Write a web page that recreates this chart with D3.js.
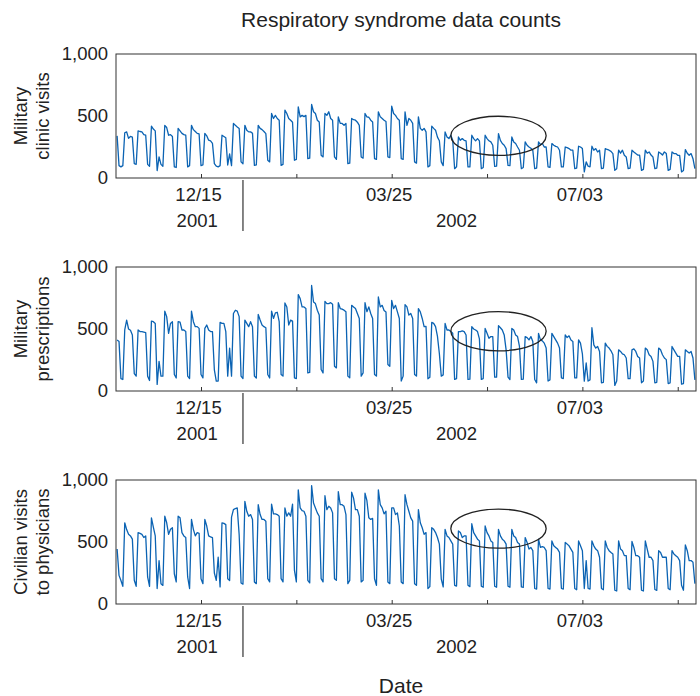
<!DOCTYPE html>
<html>
<head>
<meta charset="utf-8">
<script src="https://cdn.jsdelivr.net/npm/d3@7"></script>
<style>
  body { margin: 0; background: #fff; }
  svg text { font-family: "Liberation Sans", Arial, Helvetica, sans-serif; fill: #222; }
</style>
</head>
<body>
<div id="chart"></div>
<script>

// Daily counts, Thu 2001-11-01 .. Sat 2002-08-31, one row per week (Mon..Sun)
const firstDay = new Date(2001, 10, 1);

const clinicVisits = [
  340, 100, 90, 100,
  365, 372, 320, 335, 330, 115, 110,   // Nov 5
  380, 375, 372, 350, 345, 110, 95,    // Nov 12
  418, 395, 380, 60, 170, 110, 95,     // Nov 19
  425, 407, 345, 350, 335, 90, 85,     // Nov 26
  400, 380, 360, 350, 345, 90, 100,    // Dec 3
  425, 390, 375, 360, 355, 100, 105,   // Dec 10
  360, 340, 305, 300, 280, 116, 95,    // Dec 17
  90, 100, 345, 335, 325, 105, 195,    // Dec 24
  100, 440, 425, 412, 400, 130, 115,   // Dec 31
  425, 385, 372, 372, 360, 102, 105,   // Jan 7
  425, 400, 390, 375, 358, 143, 130,   // Jan 14
  520, 480, 505, 480, 466, 102, 110,   // Jan 21
  547, 520, 480, 466, 450, 143, 150,   // Jan 28
  574, 493, 505, 495, 505, 156, 160,   // Feb 4
  593, 534, 520, 466, 452, 183, 170,   // Feb 11
  520, 505, 534, 480, 466, 170, 150,   // Feb 18
  493, 440, 440, 425, 440, 116, 120,   // Feb 25
  480, 470, 466, 450, 425, 170, 160,   // Mar 4
  520, 493, 490, 466, 452, 156, 150,   // Mar 11
  534, 493, 480, 466, 455, 170, 165,   // Mar 18
  580, 520, 505, 480, 466, 156, 150,   // Mar 25
  534, 425, 480, 466, 440, 130, 120,   // Apr 1
  493, 400, 385, 400, 372, 89, 100,    // Apr 8
  418, 400, 385, 330, 300, 130, 100,   // Apr 15
  372, 331, 318, 345, 304, 75, 90,     // Apr 22
  331, 304, 318, 304, 300, 89, 90,     // Apr 29
  345, 318, 300, 318, 300, 75, 85,     // May 6
  345, 318, 300, 291, 264, 94, 95,     // May 13
  358, 304, 278, 264, 237, 102, 100,   // May 20
  331, 291, 278, 250, 224, 75, 85,     // May 27
  291, 264, 250, 240, 224, 75, 80,     // Jun 3
  291, 270, 278, 250, 250, 89, 85,     // Jun 10
  278, 264, 255, 250, 224, 89, 90,     // Jun 17
  250, 245, 237, 224, 224, 75, 80,     // Jun 24
  256, 250, 237, 49, 130, 95, 90,      // Jul 1
  256, 224, 237, 210, 224, 75, 80,     // Jul 8
  237, 230, 224, 215, 197, 62, 75,     // Jul 15
  224, 200, 224, 183, 170, 75, 80,     // Jul 22
  224, 210, 197, 185, 185, 62, 70,     // Jul 29
  224, 200, 210, 185, 170, 75, 80,     // Aug 5
  210, 200, 185, 210, 197, 62, 70,     // Aug 12
  210, 197, 197, 183, 183, 49, 60,     // Aug 19
  229, 200, 183, 197, 156, 75          // Aug 26
];

const prescriptions = [
  412, 400, 100, 93,
  492, 572, 500, 490, 452, 140, 120,   // Nov 5
  492, 479, 479, 475, 471, 120, 85,    // Nov 12
  564, 559, 545, 53, 239, 120, 120,    // Nov 19
  644, 600, 465, 545, 559, 133, 105,   // Nov 26
  559, 555, 492, 492, 480, 120, 100,   // Dec 3
  644, 559, 519, 519, 505, 133, 106,   // Dec 10
  505, 532, 492, 480, 479, 170, 80,    // Dec 17
  80, 553, 545, 545, 479, 120, 346,    // Dec 24
  120, 625, 651, 644, 600, 120, 100,   // Dec 31
  572, 545, 519, 559, 519, 120, 105,   // Jan 7
  617, 572, 532, 519, 510, 133, 105,   // Jan 14
  644, 585, 630, 635, 560, 133, 120,   // Jan 21
  710, 678, 532, 572, 564, 106, 100,   // Jan 28
  777, 745, 678, 678, 665, 146, 150,   // Feb 4
  851, 718, 705, 651, 612, 173, 145,   // Feb 11
  723, 705, 705, 712, 700, 199, 186,   // Feb 18
  712, 665, 660, 652, 640, 120, 106,   // Feb 25
  691, 678, 665, 625, 585, 120, 146,   // Mar 4
  712, 640, 678, 625, 585, 133, 120,   // Mar 11
  758, 678, 691, 650, 638, 213, 199,   // Mar 18
  731, 665, 691, 638, 585, 80, 120,    // Mar 25
  697, 678, 612, 625, 585, 133, 120,   // Apr 1
  665, 638, 585, 519, 520, 98, 110,    // Apr 8
  553, 545, 519, 440, 300, 120, 130,   // Apr 15
  545, 492, 492, 479, 465, 93, 100,    // Apr 22
  479, 479, 484, 479, 452, 93, 95,     // Apr 29
  519, 500, 492, 479, 420, 93, 100,    // May 6
  505, 465, 425, 439, 439, 112, 112,   // May 13
  527, 510, 492, 452, 332, 112, 93,    // May 20
  505, 492, 452, 439, 359, 93, 95,     // May 27
  439, 431, 412, 439, 399, 93, 66,     // Jun 3
  465, 412, 404, 386, 346, 80, 90,     // Jun 10
  465, 439, 412, 386, 346, 106, 100,   // Jun 17
  452, 431, 445, 412, 400, 106, 106,   // Jun 24
  412, 386, 300, 80, 226, 80, 90,      // Jul 1
  510, 372, 346, 359, 319, 66, 70,     // Jul 8
  386, 360, 346, 324, 292, 45, 80,     // Jul 15
  332, 319, 300, 292, 266, 100, 100,   // Jul 22
  332, 340, 319, 279, 266, 66, 80,     // Jul 29
  346, 332, 292, 279, 239, 66, 70,     // Aug 5
  346, 332, 292, 266, 253, 60, 65,     // Aug 12
  359, 332, 306, 279, 280, 55, 60,     // Aug 19
  332, 319, 306, 319, 266, 90          // Aug 26
];

const civilianVisits = [
  443, 231, 190, 143,
  655, 600, 562, 549, 523, 191, 143,   // Nov 5
  576, 570, 562, 536, 549, 218, 143,   // Nov 12
  695, 620, 549, 125, 350, 164, 150,   // Nov 19
  708, 655, 562, 602, 615, 244, 178,   // Nov 26
  708, 695, 576, 549, 536, 218, 125,   // Dec 3
  682, 602, 549, 576, 570, 204, 164,   // Dec 10
  682, 629, 549, 541, 536, 250, 190,   // Dec 17
  377, 138, 655, 650, 640, 204, 190,   // Dec 24
  700, 761, 770, 775, 560, 170, 160,   // Dec 31
  828, 748, 708, 721, 682, 178, 164,   // Jan 7
  801, 721, 682, 682, 668, 204, 178,   // Jan 14
  806, 727, 727, 721, 708, 204, 178,   // Jan 21
  775, 708, 735, 708, 806, 271, 178,   // Jan 28
  920, 775, 753, 748, 708, 191, 170,   // Feb 4
  955, 814, 775, 735, 708, 204, 178,   // Feb 11
  873, 761, 788, 775, 735, 204, 191,   // Feb 18
  907, 801, 801, 788, 721, 164, 190,   // Feb 25
  902, 854, 761, 761, 708, 178, 191,   // Mar 4
  894, 833, 695, 682, 690, 204, 151,   // Mar 11
  920, 801, 775, 727, 748, 178, 164,   // Mar 18
  775, 775, 721, 735, 629, 178, 164,   // Mar 25
  881, 801, 748, 695, 668, 164, 151,   // Apr 1
  761, 655, 615, 562, 576, 125, 140,   // Apr 8
  615, 602, 576, 536, 483, 200, 138,   // Apr 15
  602, 549, 536, 509, 483, 151, 145,   // Apr 22
  589, 576, 536, 549, 549, 151, 140,   // Apr 29
  647, 576, 549, 523, 509, 143, 135,   // May 6
  629, 576, 549, 509, 496, 143, 135,   // May 13
  602, 549, 523, 509, 483, 143, 135,   // May 20
  602, 549, 536, 496, 483, 138, 135,   // May 27
  536, 496, 443, 456, 430, 125, 120,   // Jun 3
  523, 456, 462, 456, 430, 125, 120,   // Jun 10
  509, 469, 456, 443, 416, 125, 120,   // Jun 17
  496, 483, 469, 443, 416, 125, 115,   // Jun 24
  509, 469, 430, 125, 350, 125, 120,   // Jul 1
  509, 469, 443, 430, 377, 125, 115,   // Jul 8
  509, 456, 430, 416, 403, 111, 105,   // Jul 15
  509, 443, 430, 390, 390, 125, 115,   // Jul 22
  504, 456, 390, 390, 377, 111, 105,   // Jul 29
  509, 443, 377, 377, 350, 117, 110,   // Aug 5
  430, 416, 377, 377, 377, 125, 115,   // Aug 12
  430, 403, 390, 377, 350, 151, 111,   // Aug 19
  477, 430, 350, 350, 337, 164         // Aug 26
];

const panelLabels = [
  ["Military", "clinic visits"],
  ["Military", "prescriptions"],
  ["Civilian visits", "to physicians"]
];

// circled weeks: value range per panel
const ringDates = [new Date(2002, 3, 25), new Date(2002, 5, 14)];
const ringValues = [[182, 498], [324, 640], [450, 765]];

const yTicks = [0, 500, 1000];
const xTicks = [
  new Date(2001, 11, 15), new Date(2002, 1, 3), new Date(2002, 2, 25),
  new Date(2002, 4, 14), new Date(2002, 6, 3), new Date(2002, 7, 22)
];
const labelledTicks = ["12/15", "03/25", "07/03"];
const yearLabels = [
  { text: "2001", at: new Date(2001, 11, 13) },
  { text: "2002", at: new Date(2002, 3, 28) }
];
const yearBreak = new Date(2002, 0, 6);


function drawChart(width, height, selector) {

  let margin = { left: 116, right: 4 };
  let panelHeight = 124;
  let panelBottoms = [178, 391, 604];

  let series = [clinicVisits, prescriptions, civilianVisits];
  let dates = clinicVisits.map((d, i) => d3.timeDay.offset(firstDay, i));

  let svg = d3.select(selector)
    .append("svg")
    .attr("width", width)
    .attr("height", height);

  let xScale = d3.scaleTime()
    .domain([new Date(2001, 9, 31, 10), new Date(2002, 7, 31, 14)])
    .range([margin.left, width - margin.right]);

  let fmt = d3.timeFormat("%m/%d");

  // Title and x label
  svg.append("text")
    .attr("x", 401)
    .attr("y", 27)
    .attr("text-anchor", "middle")
    .attr("font-size", 21)
    .text("Respiratory syndrome data counts");

  svg.append("text")
    .attr("x", 401)
    .attr("y", 693)
    .attr("text-anchor", "middle")
    .attr("font-size", 21)
    .text("Date");

  series.forEach((values, p) => {

    let bottom = panelBottoms[p];
    let top = bottom - panelHeight;

    let yScale = d3.scaleLinear()
      .domain([0, 1000])
      .range([bottom, top]);

    let panel = svg.append("g").attr("class", "panel panel-" + p);

    panel.append("clipPath")
      .attr("id", "clip-" + p)
      .append("rect")
      .attr("x", margin.left)
      .attr("y", top)
      .attr("width", xScale.range()[1] - margin.left)
      .attr("height", panelHeight);

    // series line
    let line = d3.line()
      .x((d, i) => xScale(dates[i]))
      .y(d => yScale(d));

    panel.append("path")
      .datum(values)
      .attr("clip-path", "url(#clip-" + p + ")")
      .attr("d", line)
      .attr("fill", "none")
      .attr("stroke", "#0b63b3")
      .attr("stroke-width", 1.3)
      .attr("stroke-linejoin", "round");

    // frame
    panel.append("rect")
      .attr("x", margin.left)
      .attr("y", top)
      .attr("width", xScale.range()[1] - margin.left)
      .attr("height", panelHeight)
      .attr("fill", "none")
      .attr("stroke", "#333")
      .attr("stroke-width", 1);

    // x axis with inward ticks
    let xAxis = d3.axisBottom(xScale)
      .tickValues(xTicks)
      .tickSizeInner(-4)
      .tickSizeOuter(0)
      .tickFormat(d => labelledTicks.includes(fmt(d)) ? fmt(d) : "");

    let axisG = panel.append("g")
      .attr("class", "axis x-axis")
      .attr("transform", "translate(0," + bottom + ")")
      .call(xAxis);

    axisG.select(".domain").remove();
    axisG.selectAll(".tick line").attr("stroke", "#333");
    axisG.selectAll(".tick text")
      .attr("y", 23)
      .attr("dy", 0)
      .attr("dx", -3)
      .attr("font-size", 18.5)
      .attr("font-family", null)
      .attr("fill", "#222");

    // year labels and break line
    panel.selectAll(".year-label")
      .data(yearLabels)
      .join("text")
      .attr("class", "year-label")
      .attr("x", d => xScale(d.at))
      .attr("y", bottom + 49)
      .attr("text-anchor", "middle")
      .attr("font-size", 18.5)
      .text(d => d.text);

    panel.append("line")
      .attr("x1", xScale(yearBreak))
      .attr("x2", xScale(yearBreak))
      .attr("y1", bottom + 2)
      .attr("y2", bottom + 53)
      .attr("stroke", "#333")
      .attr("stroke-width", 1.2);

    // y labels (no tick marks)
    panel.selectAll(".y-label")
      .data(yTicks)
      .join("text")
      .attr("class", "y-label")
      .attr("x", margin.left - 8)
      .attr("y", d => yScale(d))
      .attr("dy", "0.35em")
      .attr("text-anchor", "end")
      .attr("font-size", 18.5)
      .text(d => d3.format(",")(d));

    // rotated panel title
    let label = panel.append("g")
      .attr("transform", "translate(0," + ((top + bottom) / 2) + ") rotate(-90)");

    label.selectAll("text")
      .data(panelLabels[p])
      .join("text")
      .attr("x", 0)
      .attr("y", (d, i) => 27 + i * 22)
      .attr("text-anchor", "middle")
      .attr("font-size", 18.5)
      .text(d => d);

    // ellipse round the circled weeks
    let rx0 = xScale(ringDates[0]), rx1 = xScale(ringDates[1]);
    let ry0 = yScale(ringValues[p][0]), ry1 = yScale(ringValues[p][1]);

    panel.append("ellipse")
      .attr("cx", (rx0 + rx1) / 2)
      .attr("cy", (ry0 + ry1) / 2)
      .attr("rx", (rx1 - rx0) / 2)
      .attr("ry", Math.abs(ry0 - ry1) / 2)
      .attr("fill", "none")
      .attr("stroke", "#222")
      .attr("stroke-width", 1.3);
  });
}

drawChart(700, 696, "#chart");
</script>
</body>
</html>
